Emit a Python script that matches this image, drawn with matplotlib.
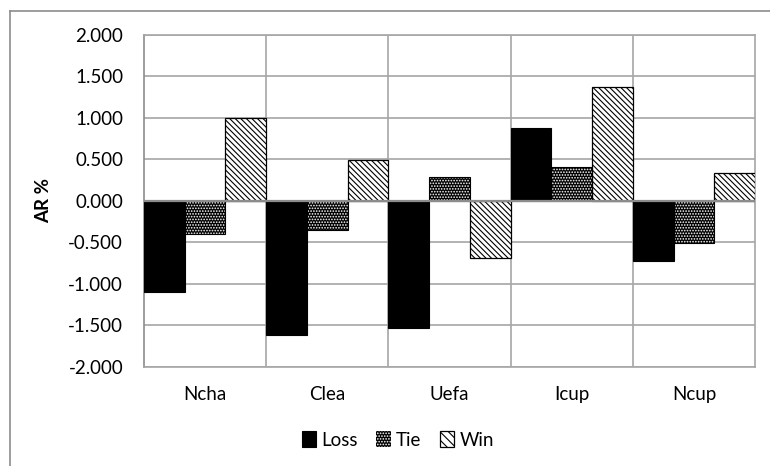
import matplotlib.pyplot as plt
import numpy as np
from matplotlib.lines import Line2D

# values (AR %)
categories = ["Ncha", "Clea", "Uefa", "Icup", "Ncup"]
loss = [-1.10, -1.62, -1.53, 0.87, -0.73]
tie = [-0.40, -0.35, 0.29, 0.41, -0.51]
win = [0.99, 0.49, -0.69, 1.37, 0.33]
yticks = [-2.0, -1.5, -1.0, -0.5, 0.0, 0.5, 1.0, 1.5, 2.0]

W, H = 770, 466
plt.rcParams['font.family'] = ['Lato', 'DejaVu Sans']
plt.rcParams['hatch.linewidth'] = 0.8

fig = plt.figure(figsize=(W / 100, H / 100), dpi=100)
ax = fig.add_axes([144 / W, 1 - 366.7 / H, (755 - 144) / W, (366.7 - 34.5) / H])

grid_c = '#a6a6a6'
x = np.arange(len(categories))
bw = 1 / 3

ax.bar(x - bw, loss, bw, color='black', edgecolor='black', linewidth=0.8, zorder=3, label='Loss')
# tie: white dots on black, then a black outline on top
ax.bar(x, tie, bw, color='black', edgecolor='white', hatch='......', linewidth=0, zorder=3)
ax.bar(x, tie, bw, fill=False, edgecolor='black', linewidth=0.8, zorder=4)
ax.bar(x + bw, win, bw, color='white', edgecolor='black', hatch='\\' * 6, linewidth=0.9, zorder=3)

ax.set_xlim(-0.5, len(categories) - 0.5)
ax.set_ylim(-2, 2)
ax.set_yticks(yticks)
ax.set_yticklabels(['{:.3f}'.format(v) for v in yticks])
ax.set_xticks(x)
ax.set_xticklabels(categories)
ax.tick_params(axis='both', length=0, labelsize=13.5, colors='black')
ax.tick_params(axis='y', pad=15)
ax.tick_params(axis='x', pad=14)

for v in yticks:
    ax.axhline(v, color=grid_c, linewidth=1.2, zorder=1)
for b in np.arange(0.5, len(categories) - 0.5):
    ax.axvline(b, color=grid_c, linewidth=1.2, zorder=1)
ax.axhline(0, color='#8c8c8c', linewidth=1.6, zorder=5)
for s in ax.spines.values():
    s.set_color(grid_c)
    s.set_linewidth(1.2)
ax.spines['left'].set_color('#8c8c8c')

ax.set_ylabel('AR %', fontsize=13.5, fontweight='bold', labelpad=10)
ax.yaxis.set_label_coords(-92 / (755 - 144), 0.5)

# legend
handles = [
    plt.Rectangle((0, 0), 1, 1, facecolor='black', edgecolor='black', linewidth=0.8),
    plt.Rectangle((0, 0), 1, 1, facecolor='black', edgecolor='white', hatch='......', linewidth=0),
    plt.Rectangle((0, 0), 1, 1, facecolor='white', edgecolor='black', hatch='\\' * 4, linewidth=0.9),
]
fig.legend(handles, ['Loss', 'Tie', 'Win'], loc='center', bbox_to_anchor=(398 / W, 1 - 440 / H),
           ncol=3, frameon=False, fontsize=13.5, handlelength=0.75, handleheight=0.9,
           handletextpad=0.3, columnspacing=1.0)

# outer chart border (right and bottom edges are off the picture)
fig.add_artist(Line2D([10 / W, 10 / W], [0, 1 - 11 / H], color='#8c8c8c', linewidth=1.2))
fig.add_artist(Line2D([10 / W, 1], [1 - 11 / H, 1 - 11 / H], color='#8c8c8c', linewidth=1.2))

fig.savefig('out.png', dpi=100)
